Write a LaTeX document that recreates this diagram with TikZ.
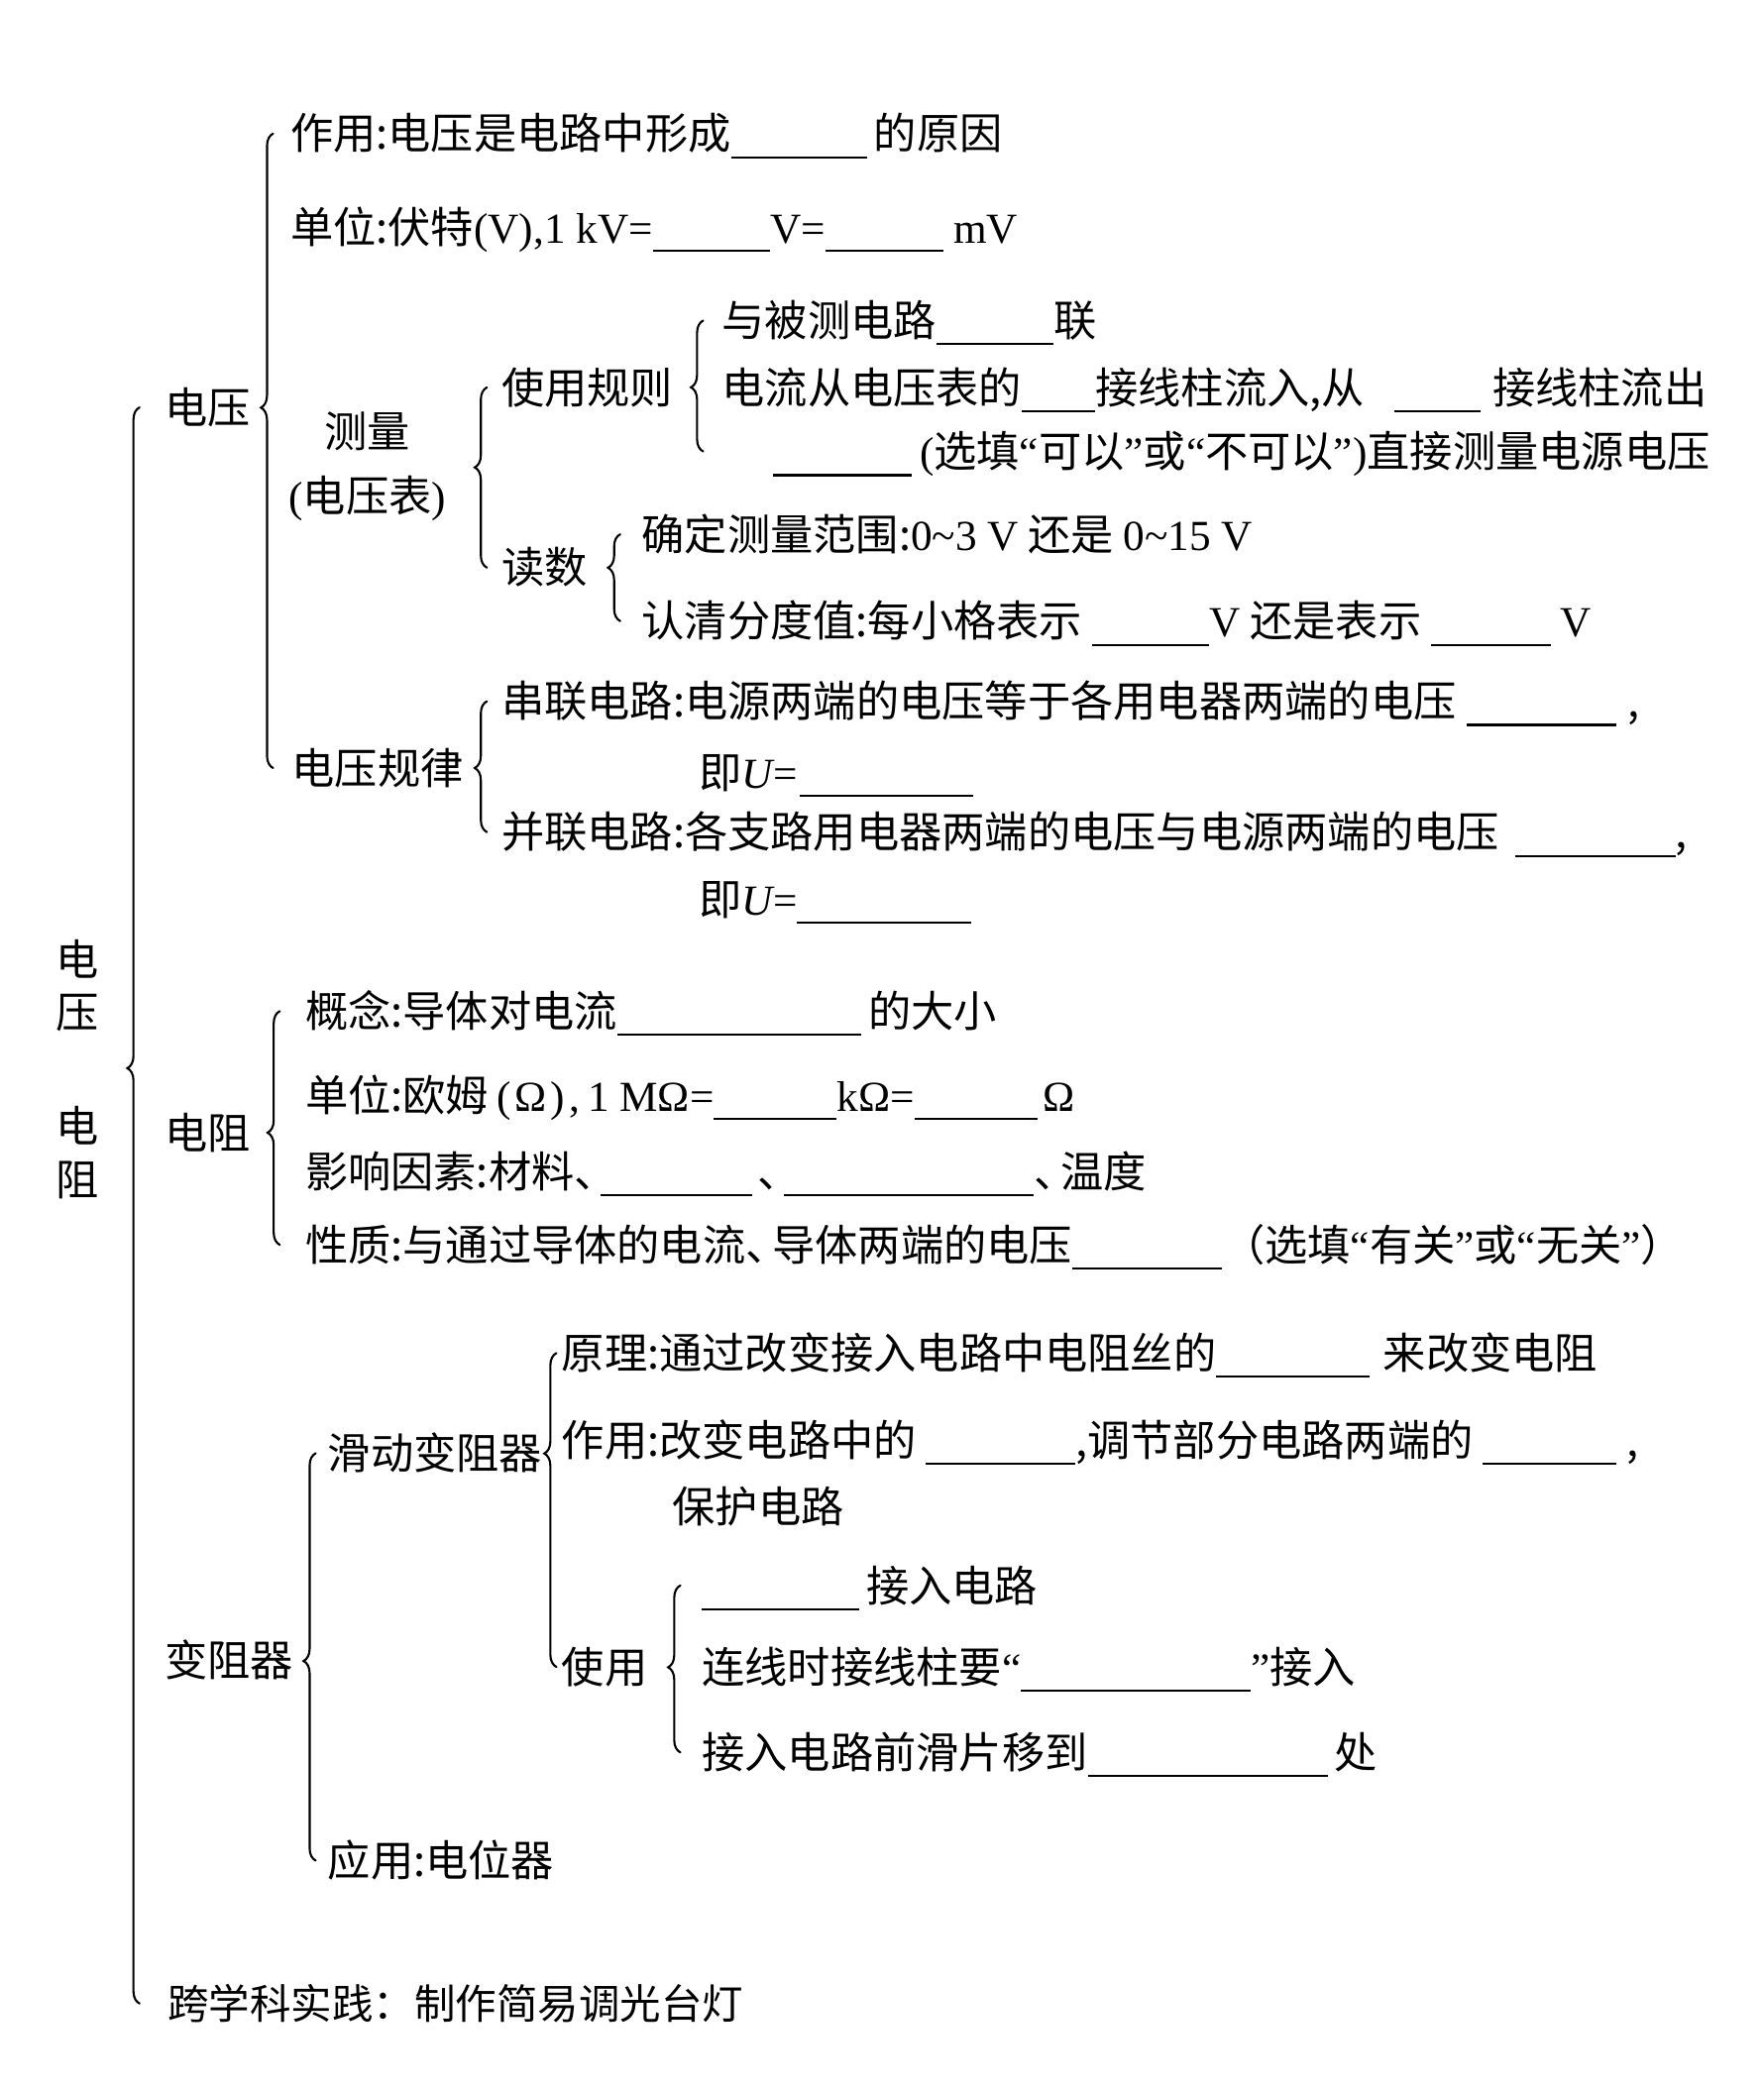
\documentclass[tikz,border=0pt]{standalone}
\usepackage{fontspec}
\setmainfont{Noto Sans CJK SC}
\newfontfamily\lat{Liberation Serif}
\usetikzlibrary{decorations.pathreplacing}
\newlength\ux \setlength\ux{0.01348cm}
\newcommand\blank[1]{\rule[-2.5pt]{#1\ux}{0.6pt}}
\newcommand\oq{{\lat “}}
\newcommand\cq{{\lat ”}}
\newcommand\dun{\makebox[20\ux][l]{、}}
\newcommand\brc[4]{\draw[brc,decoration={brace,amplitude=3.5pt,aspect=#1}]([xshift=-#2,yshift=4.6pt]#3.base west |- #4.base west)--([xshift=-#2,yshift=4.6pt]#3.base west);}
\begin{document}
\begin{tikzpicture}[x=0.01348cm,y=-0.01348cm,line cap=round,
	txt/.style={anchor=base west,inner sep=0pt,font=\fontsize{12.3pt}{18.4pt}\selectfont},
	vtxt/.style={anchor=center,align=center,inner sep=0pt,font=\fontsize{12.3pt}{15.3pt}\selectfont},
	brc/.style={decorate,line width=.6pt}]
		\useasboundingbox(0,0)rectangle(1320,1567);
		\node[vtxt](t1)at(58,738){电\\压};
		\node[vtxt](t2)at(58,863){电\\阻};
		\node[txt](dy)at(123,317){电压};
		\node[txt](zy)at(217,112){作用:电压是电路中形成\blank{102}\hspace{5\ux}的原因};
		\node[txt](dw)at(217,182){单位:伏特{\lat(V),1 kV=}\blank{88}{\lat V=}\blank{88}{\lat\ mV}};
		\node[vtxt,font=\fontsize{12.3pt}{18.4pt}\selectfont](cl)at(275,349){测量\\{\lat(}电压表{\lat)}};
		\node[txt](gz)at(375,302){使用规则};
		\node[txt](g1)at(540,252){与被测电路\blank{88}联};
		\node[txt](g2)at(540,302){电流从电压表的\blank{55}接线柱流入,从\hspace{22\ux}\blank{65}\hspace{9\ux}接线柱流出};
		\node[txt](g3)at(578,350){\blank{104}\hspace{6\ux}{\lat(}选填\oq 可以\cq 或\oq 不可以\cq{\lat)}直接测量电源电压};
		\node[txt](ds)at(375,437){读数};
		\node[txt](d1)at(480,412){确定测量范围:{\lat 0\textasciitilde3 V} 还是 {\lat 0\textasciitilde15 V}};
		\node[txt](d2)at(480,477){认清分度值:每小格表示 \blank{88}{\lat V} 还是表示 \blank{90} {\lat V}};
		\node[txt](gl)at(218,587){电压规律};
		\node[txt](c1)at(375,537){串联电路:电源两端的电压等于各用电器两端的电压\hspace{8\ux}\blank{112}\hspace{8\ux},};
		\node[txt](c2)at(523,590){即{\lat\itshape U}{\lat=}\hspace{2\ux}\blank{130}};
		\node[txt](b1)at(375,635){并联电路:各支路用电器两端的电压与电源两端的电压\hspace{12\ux}\blank{120},};
		\node[txt](b2)at(523,685){即{\lat\itshape U}{\lat=}\blank{130}};
		\node[txt](dz)at(123,860){电阻};
		\node[txt](z1)at(228,769){概念:导体对电流\blank{183}\hspace{5\ux}的大小};
		\node[txt](z2)at(228,832){单位:欧姆{\lat\hspace{6\ux}(\hspace{3\ux}Ω\hspace{3\ux})\hspace{3\ux},\hspace{6\ux}1 MΩ=}\blank{92}{\lat kΩ=}\blank{92}{\lat\hspace{4\ux}Ω}};
		\node[txt](z3)at(228,889){影响因素:材料\dun\blank{113}\hspace{4\ux}\dun\blank{187}\dun 温度};
		\node[txt](z4)at(228,944){性质:与通过导体的电流\dun 导体两端的电压\blank{112}（选填\oq 有关\cq 或\oq 无关\cq）};
		\node[txt](bz)at(123,1255){变阻器};
		\node[txt](hd)at(245,1100){滑动变阻器};
		\node[txt](h1)at(420,1025){原理:通过改变接入电路中电阻丝的\blank{115}\hspace{10\ux}来改变电阻};
		\node[txt](h2)at(420,1090){作用:改变电路中的 \blank{112},调节部分电路两端的 \blank{100}\hspace{8\ux},};
		\node[txt](h3)at(503,1140){保护电路};
		\node[txt](sy)at(420,1260){使用};
		\node[txt](s1)at(525,1199){\blank{118}\hspace{5\ux}接入电路};
		\node[txt](s2)at(525,1260){连线时接线柱要\oq\blank{172}\cq 接入};
		\node[txt](s3)at(525,1324){接入电路前滑片移到\blank{180}\hspace{5\ux}处};
		\node[txt](yy)at(245,1405){应用:电位器};
		\node[txt,font=\fontsize{11.8pt}{14pt}\selectfont](kx)at(125,1512){跨学科实践：制作简易调光台灯};
		\brc{0.586}{7.1pt}{dy}{kx}
		\brc{0.568}{4.8pt}{zy}{gl}
		\brc{0.556}{4pt}{gz}{ds}
		\brc{0.49}{5.2pt}{g1}{g3}
		\brc{0.615}{6pt}{d1}{d2}
		\brc{0.49}{4pt}{c1}{b1}
		\brc{0.48}{7.1pt}{z1}{z4}
		\brc{0.49}{3.3pt}{hd}{yy}
		\brc{0.68}{1.3pt}{h1}{sy}
		\brc{0.51}{6pt}{s1}{s3}
	\end{tikzpicture}
\end{document}
